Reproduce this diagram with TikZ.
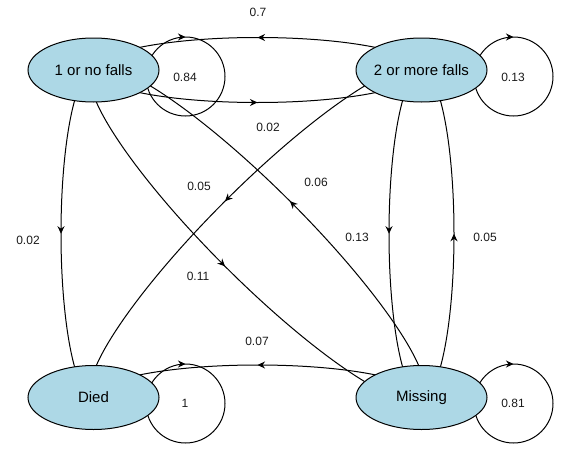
\documentclass[tikz,border=0pt]{standalone}
\usepackage{fontspec}
\setmainfont{Liberation Sans}
\usetikzlibrary{shapes.geometric,arrows.meta,decorations.markings,backgrounds,calc}
\definecolor{nodeblue}{HTML}{ADD8E6}
\definecolor{labelgray}{HTML}{1A1A1A}
\tikzset{
  stnode/.style={ellipse, draw=black, line width=1pt, fill=nodeblue, minimum width=131pt, minimum height=64pt, inner sep=0pt, font=\fontsize{15}{18}\selectfont},
  elabel/.style={inner sep=0pt, text=labelgray, font=\fontsize{12}{14}\selectfont},
  edge/.style={draw=black, line width=1pt, decoration={markings, mark=at position 0.5 with {\arrow{Stealth[length=7.5pt,width=7pt,inset=2.4pt]}}}, postaction={decorate}},
  loopedge/.style={draw=black, line width=1pt, decoration={markings, mark=at position 0.25 with {\arrowreversed{Stealth[length=7.5pt,width=7pt,inset=2.4pt]}}}, postaction={decorate}}
}
% half-ellipse connector from node #1 to node #2, bulging to the right by #3
\newcommand\halfellipse[3]{%
  \draw[edge] (#1.center)
    .. controls ($(#1.center)!#3*0.5523!-90:(#2.center)$)
            and ($($(#1.center)!0.22385!(#2.center)$)!#3!-90:(#2.center)$)
    .. ($($(#1.center)!0.5!(#2.center)$)!#3!-90:(#2.center)$)
    .. controls ($($(#1.center)!0.77615!(#2.center)$)!#3!-90:(#2.center)$)
            and ($(#2.center)!#3*0.5523!90:(#1.center)$)
    .. (#2.center);}
\begin{document}
\begin{tikzpicture}[x=1pt,y=1pt]
\useasboundingbox (0,0) rectangle (576,-458);
\node[stnode] (A) at (93.5,-70) {\makebox[0pt]{1 or no falls}};
\node[stnode] (B) at (421.5,-70) {\makebox[0pt]{2 or more falls}};
\node[stnode] (C) at (93.5,-397.5) {\makebox[0pt]{Died}};
\node[stnode] (D) at (421.5,-397.5) {\makebox[0pt]{Missing}};
\begin{scope}[on background layer]
  \halfellipse{B}{A}{32.5pt}
  \halfellipse{A}{B}{32.5pt}
  \halfellipse{A}{C}{32.5pt}
  \halfellipse{A}{D}{46pt}
  \halfellipse{B}{C}{46pt}
  \halfellipse{D}{A}{46pt}
  \halfellipse{B}{D}{32.5pt}
  \halfellipse{D}{B}{32.5pt}
  \halfellipse{D}{C}{32.5pt}
  \draw[loopedge] ([shift={(92,-6.5)}]A.center) circle[radius=39.5];
  \draw[loopedge] ([shift={(92,-6.5)}]B.center) circle[radius=39.5];
  \draw[loopedge] ([shift={(92,-6)}]C.center) circle[radius=39.5];
  \draw[loopedge] ([shift={(92,-6)}]D.center) circle[radius=39.5];
\end{scope}
\node[elabel] (l1) at (258,-12) {0.7};
\node[elabel] (l2) at (185,-77) {0.84};
\node[elabel] (l3) at (513,-77) {0.13};
\node[elabel] (l4) at (268,-127) {0.02};
\node[elabel] (l5) at (199,-186) {0.05};
\node[elabel] (l6) at (316,-182) {0.06};
\node[elabel] (l7) at (198,-276) {0.11};
\node[elabel] (l8) at (357,-237) {0.13};
\node[elabel] (l9) at (485,-237) {0.05};
\node[elabel] (l10) at (28,-240) {0.02};
\node[elabel] (l11) at (257,-341) {0.07};
\node[elabel] (l12) at (185,-403) {1};
\node[elabel] (l13) at (513,-403) {0.81};
\end{tikzpicture}
\end{document}
